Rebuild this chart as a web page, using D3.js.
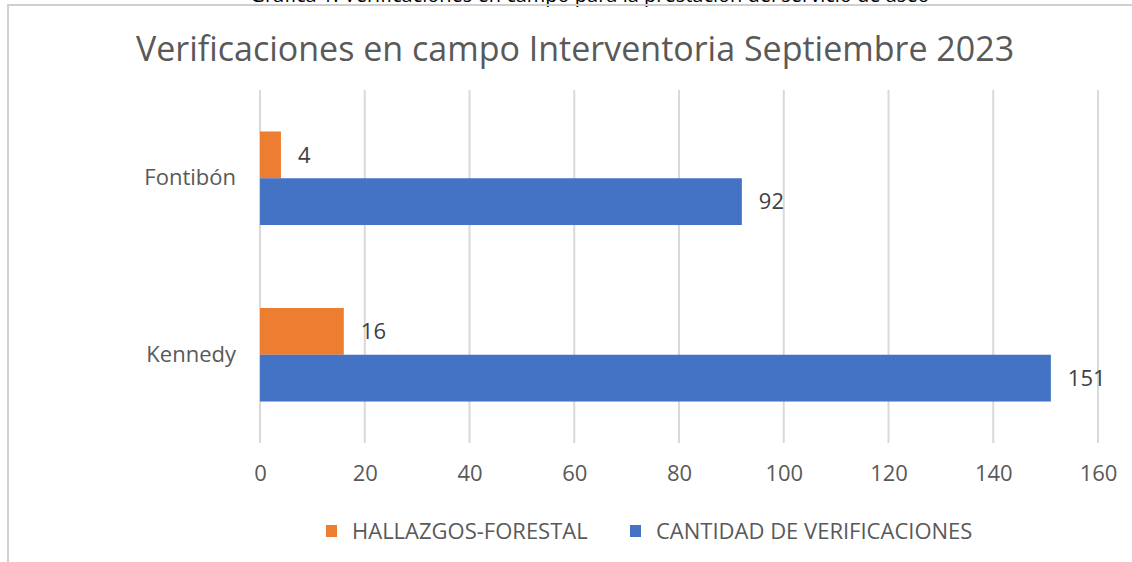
<!DOCTYPE html>
<html>
<head>
<meta charset="utf-8">
<script src="https://cdn.jsdelivr.net/npm/d3@7"></script>
<style>
  body { margin: 0; background: #fff; }
  svg text { font-family: "Open Sans", "Noto Sans", sans-serif; }
</style>
</head>
<body>
<div id="chart"></div>
<script>
// data
var categories = ['Fontibón', 'Kennedy'];
var seriesNames = ['HALLAZGOS-FORESTAL', 'CANTIDAD DE VERIFICACIONES'];
var hallazgos = [4, 16];
var verificaciones = [92, 151];
var tickValues = [0, 20, 40, 60, 80, 100, 120, 140, 160];
var colors = ['#ED7D31', '#4472C4'];

var width = 1132, height = 562;
var margin = {top: 90, right: 34, bottom: 119, left: 260};
var fontSize = '22px';

var svg = d3.select('#chart').append('svg')
  .attr('width', width)
  .attr('height', height);

// cut-off caption line from the document above the chart
svg.append('text')
  .attr('x', 590).attr('y', 2)
  .attr('text-anchor', 'middle')
  .style('font-size', '20px')
  .style('fill', '#000')
  .text('Gráfica 1. Verificaciones en campo para la prestación del servicio de aseo');

// chart frame
svg.append('path')
  .attr('d', 'M8,' + height + ' V5 H' + width)
  .attr('fill', 'none')
  .attr('stroke', '#d0d0d0')
  .attr('stroke-width', 2);

// title
svg.append('text')
  .attr('x', 575).attr('y', 61)
  .attr('text-anchor', 'middle')
  .style('font-size', '34px')
  .style('fill', '#595959')
  .text('Verificaciones en campo Interventoria Septiembre 2023');

var x = d3.scaleLinear()
  .domain([0, 160])
  .range([margin.left, width - margin.right]);

var y = d3.scaleBand()
  .domain(categories)
  .range([margin.top, height - margin.bottom])
  .paddingInner(0.47)
  .paddingOuter(0.235);

var ySub = d3.scaleBand()
  .domain(seriesNames)
  .range([0, y.bandwidth()]);

// gridlines
svg.append('g').selectAll('line')
  .data(tickValues)
  .enter().append('line')
  .attr('x1', function(d){ return x(d); })
  .attr('x2', function(d){ return x(d); })
  .attr('y1', margin.top)
  .attr('y2', height - margin.bottom)
  .attr('stroke', '#d9d9d9')
  .attr('stroke-width', 2);

// x axis labels
var xAxis = svg.append('g')
  .attr('transform', 'translate(0,' + (height - margin.bottom) + ')')
  .call(d3.axisBottom(x).tickValues(tickValues).tickSize(0).tickPadding(22));
xAxis.select('.domain').remove();
xAxis.selectAll('text')
  .style('font-size', fontSize)
  .style('fill', '#595959')
  .style('font-family', '"Open Sans", "Noto Sans", sans-serif');

// y axis labels
var yAxis = svg.append('g')
  .attr('transform', 'translate(' + margin.left + ',0)')
  .call(d3.axisLeft(y).tickSize(0).tickPadding(24));
yAxis.select('.domain').remove();
yAxis.selectAll('text')
  .style('font-size', fontSize)
  .style('fill', '#595959')
  .style('font-family', '"Open Sans", "Noto Sans", sans-serif');

var rows = categories.map(function(c, i){
  return [
    {cat: c, series: seriesNames[0], value: hallazgos[i], color: colors[0]},
    {cat: c, series: seriesNames[1], value: verificaciones[i], color: colors[1]}
  ];
});

var groups = svg.append('g').selectAll('g')
  .data(rows)
  .enter().append('g')
  .attr('transform', function(d){ return 'translate(0,' + y(d[0].cat) + ')'; });

groups.selectAll('rect')
  .data(function(d){ return d; })
  .enter().append('rect')
  .attr('x', x(0))
  .attr('y', function(d){ return ySub(d.series); })
  .attr('width', function(d){ return x(d.value) - x(0); })
  .attr('height', ySub.bandwidth())
  .attr('fill', function(d){ return d.color; });

groups.selectAll('text.lbl')
  .data(function(d){ return d; })
  .enter().append('text')
  .attr('class', 'lbl')
  .attr('x', function(d){ return x(d.value) + 17; })
  .attr('y', function(d){ return ySub(d.series) + ySub.bandwidth() / 2; })
  .attr('dy', '0.35em')
  .style('font-size', fontSize)
  .style('fill', '#404040')
  .text(function(d){ return d.value; });

// legend
var legend = svg.append('g').selectAll('g')
  .data(seriesNames)
  .enter().append('g')
  .attr('transform', function(d, i){ return 'translate(' + [326, 630][i] + ',525)'; });
legend.append('rect')
  .attr('width', 11).attr('height', 12)
  .attr('fill', function(d, i){ return colors[i]; });
legend.append('text')
  .attr('x', 26).attr('y', 6)
  .attr('dy', '0.35em')
  .style('font-size', fontSize)
  .style('fill', '#595959')
  .text(function(d){ return d; });
</script>
</body>
</html>
